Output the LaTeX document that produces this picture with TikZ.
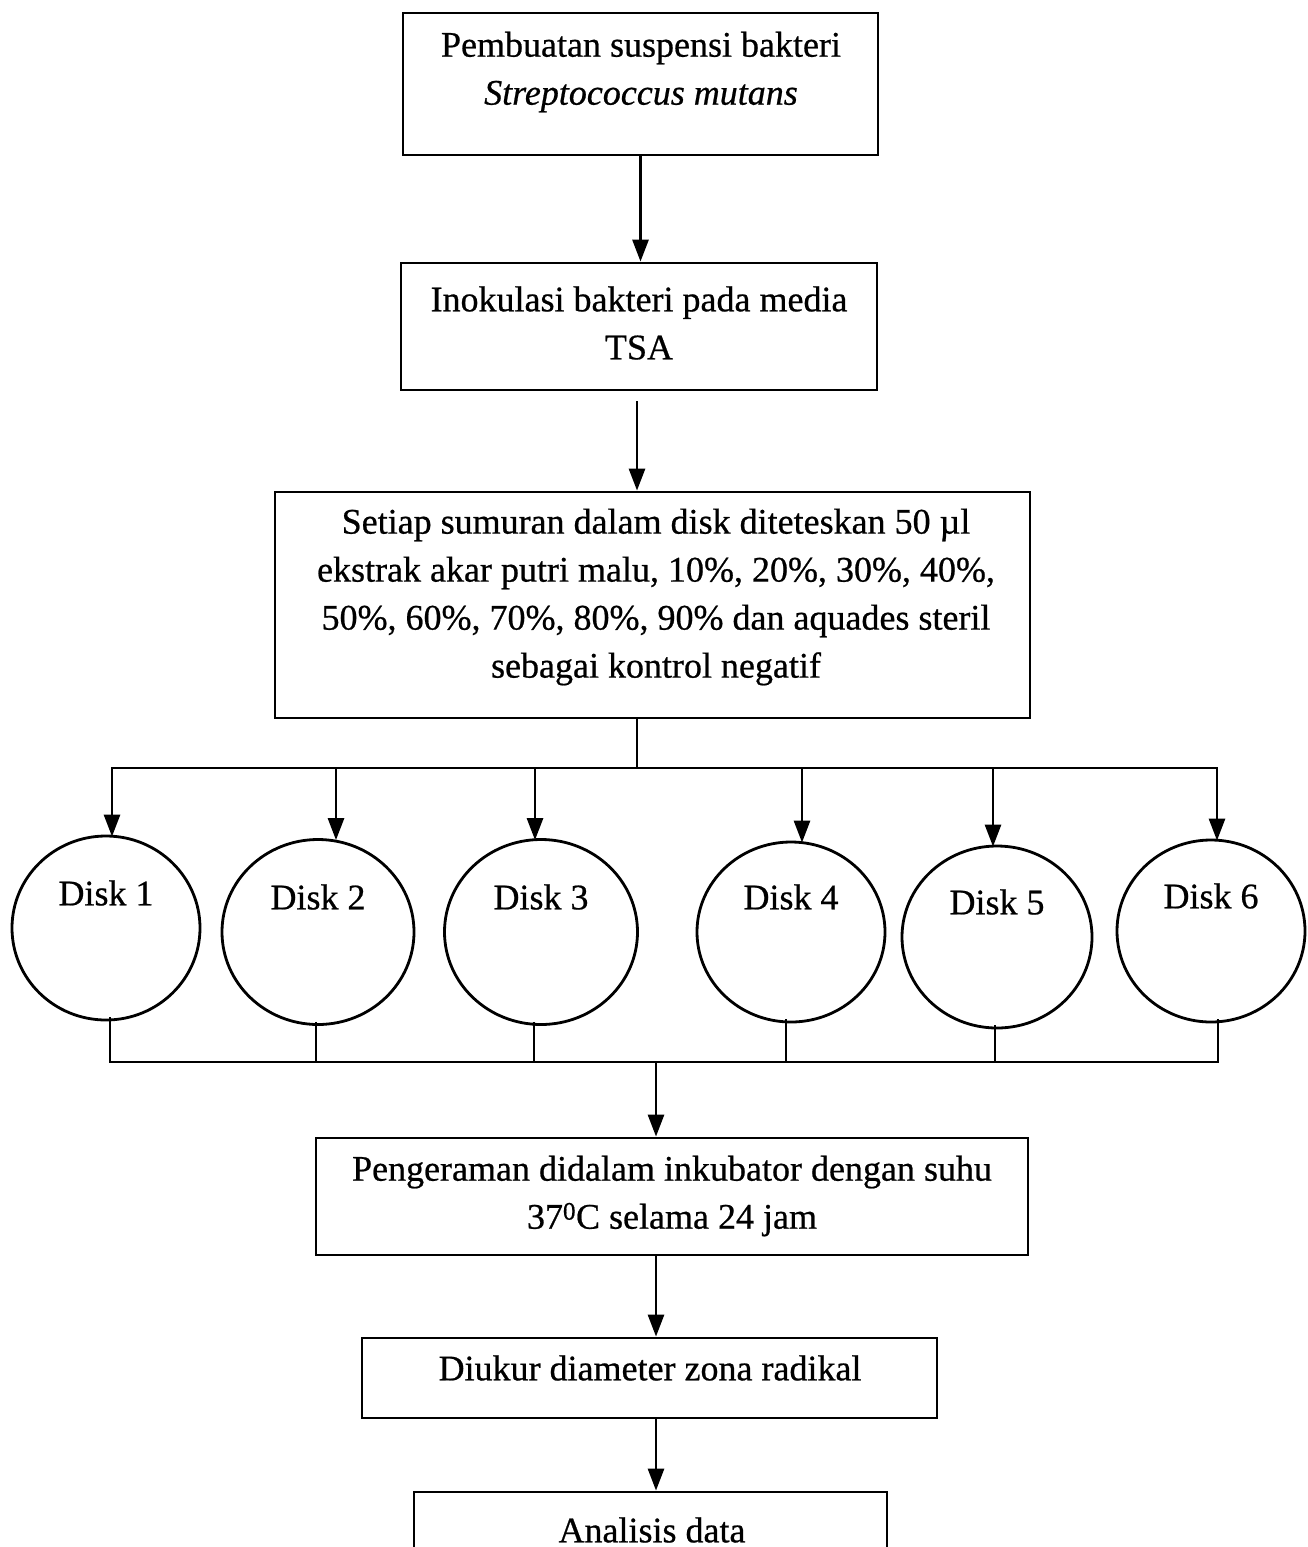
\documentclass[tikz,border=0pt]{standalone}
\usepackage{fontspec}
\setmainfont{Liberation Serif}[FakeBold=0.6]
\usetikzlibrary{arrows.meta,shapes.geometric}
\begin{document}
\begin{tikzpicture}[x=1pt,y=-1pt,line width=2.8pt,
  box/.style={draw,rectangle,inner sep=0pt},
  txt/.style={align=center,inner sep=0pt,font=\fontsize{36}{48}\selectfont},
  disk/.style={draw,ellipse,inner sep=0pt},
  arr/.style={-{Triangle[length=22pt,width=16pt]}},
]
\clip (0,0) rectangle (1307,1547);
\fill[white] (0,0) rectangle (1307,1547);
% boxes
\node[box,minimum width=475pt,minimum height=142pt] (b1) at (640.5,84) {};
\node[txt] (t1) at (641,72) {Pembuatan suspensi bakteri\\\textit{Streptococcus mutans}};
\node[box,minimum width=476pt,minimum height=127pt] (b2) at (639,326.5) {};
\node[txt] (t2) at (639,323) {Inokulasi bakteri pada media\\TSA};
\node[box,minimum width=755pt,minimum height=226pt] (b3) at (652.5,605) {};
\node[txt] (t3) at (656,597) {Setiap sumuran dalam disk diteteskan 50 µl\\ekstrak akar putri malu, 10\%, 20\%, 30\%, 40\%,\\50\%, 60\%, 70\%, 80\%, 90\% dan aquades steril\\sebagai kontrol negatif};
\node[box,minimum width=712pt,minimum height=117pt] (b4) at (672,1196.5) {};
\node[txt] (t4) at (672,1196) {Pengeraman didalam inkubator dengan suhu\\37\textsuperscript{0}C selama 24 jam};
\node[box,minimum width=575pt,minimum height=80pt] (b5) at (649.5,1378) {};
\node[txt] (t5) at (650,1368) {Diukur diameter zona radikal};
\node[box,minimum width=473pt,minimum height=88pt] (b6) at (650.5,1536) {};
\node[txt] (t6) at (652,1530) {Analisis data};
% disks
\node[disk,minimum width=188pt,minimum height=184pt] (d1) at (106,928) {};
\node[disk,minimum width=192pt,minimum height=185pt] (d2) at (318,932) {};
\node[disk,minimum width=193pt,minimum height=185pt] (d3) at (541,932) {};
\node[disk,minimum width=188pt,minimum height=180pt] (d4) at (791,932) {};
\node[disk,minimum width=190pt,minimum height=182pt] (d5) at (997,937) {};
\node[disk,minimum width=188pt,minimum height=182pt] (d6) at (1211,931) {};
\node[txt] (l1) at ([yshift=35pt]d1.center) {Disk 1};
\node[txt] (l2) at ([yshift=35pt]d2.center) {Disk 2};
\node[txt] (l3) at ([yshift=35pt]d3.center) {Disk 3};
\node[txt] (l4) at ([yshift=35pt]d4.center) {Disk 4};
\node[txt] (l5) at ([yshift=35pt]d5.center) {Disk 5};
\node[txt] (l6) at ([yshift=35pt]d6.center) {Disk 6};
% coordinates
\coordinate (busT) at (637,768);
\coordinate (busB) at (656,1062);
\coordinate (a1) at (112,768);
\coordinate (a2) at (336,768);
\coordinate (a3) at (535,768);
\coordinate (a4) at (802,768);
\coordinate (a5) at (993,768);
\coordinate (a6) at (1217,768);
\coordinate (c1) at (110,1062);
\coordinate (c2) at (316,1062);
\coordinate (c3) at (534,1062);
\coordinate (c4) at (786,1062);
\coordinate (c5) at (995,1062);
\coordinate (c6) at (1218,1062);
% connectors
\draw[arr] (b1.south) -- (b1.south |- b2.north);
\draw[arr] ([yshift=-10pt]b2.south -| busT) -- (b3.north -| busT);
\draw (b3.south -| busT) -- (busT);
\draw[line cap=rect] (a1) -- (a6);
\foreach \i in {1,...,6}{
  \draw[arr] (a\i) -- ([yshift=-2pt]a\i |- d\i.north);
  \draw ([yshift=4pt]c\i |- d\i.south) -- (c\i);
}
\draw[line cap=rect] (c1) -- (c6);
\draw[arr] (busB) -- (busB |- b4.north);
\draw[arr] (b4.south -| busB) -- (b5.north -| busB);
\draw[arr] (b5.south -| busB) -- (b6.north -| busB);
\end{tikzpicture}
\end{document}
